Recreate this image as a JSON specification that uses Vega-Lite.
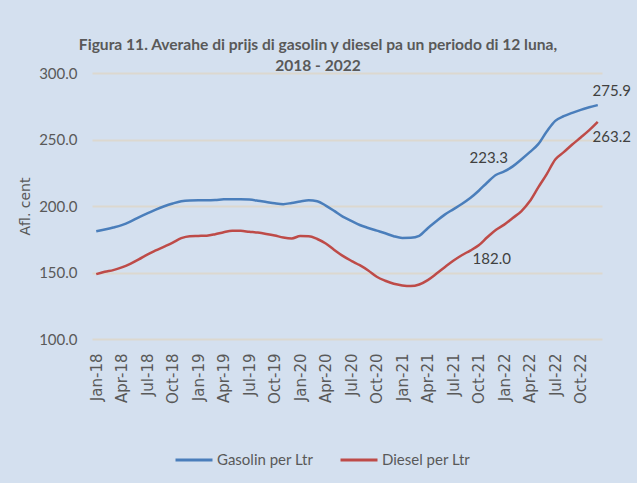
{
  "$schema": "https://vega.github.io/schema/vega-lite/v6.json",
  "width": 510,
  "height": 266,
  "autosize": {"type": "none"},
  "padding": {"left": 92, "top": 73, "right": 35, "bottom": 144},
  "background": "#d4e0ef",
  "config": {"view": {"stroke": null}},
  "title": {
    "text": ["Figura 11. Averahe di prijs di gasolin y diesel pa un periodo di 12 luna,", "2018 - 2022"],
    "font": "Lato",
    "fontSize": 15.6,
    "fontWeight": "bold",
    "color": "#595959",
    "anchor": "middle",
    "dx": -29,
    "offset": -9,
    "lineHeight": 21
  },
  "data": {
    "values": [
      {"m": "Jan-18", "s": "Gasolin per Ltr", "v": 181.0},
      {"m": "Feb-18", "s": "Gasolin per Ltr", "v": 182.3},
      {"m": "Mar-18", "s": "Gasolin per Ltr", "v": 183.8},
      {"m": "Apr-18", "s": "Gasolin per Ltr", "v": 185.6},
      {"m": "May-18", "s": "Gasolin per Ltr", "v": 188.2},
      {"m": "Jun-18", "s": "Gasolin per Ltr", "v": 191.5},
      {"m": "Jul-18", "s": "Gasolin per Ltr", "v": 194.5},
      {"m": "Aug-18", "s": "Gasolin per Ltr", "v": 197.3},
      {"m": "Sep-18", "s": "Gasolin per Ltr", "v": 199.8},
      {"m": "Oct-18", "s": "Gasolin per Ltr", "v": 201.9},
      {"m": "Nov-18", "s": "Gasolin per Ltr", "v": 203.6},
      {"m": "Dec-18", "s": "Gasolin per Ltr", "v": 204.2},
      {"m": "Jan-19", "s": "Gasolin per Ltr", "v": 204.3},
      {"m": "Feb-19", "s": "Gasolin per Ltr", "v": 204.3},
      {"m": "Mar-19", "s": "Gasolin per Ltr", "v": 204.5},
      {"m": "Apr-19", "s": "Gasolin per Ltr", "v": 205.0},
      {"m": "May-19", "s": "Gasolin per Ltr", "v": 205.1},
      {"m": "Jun-19", "s": "Gasolin per Ltr", "v": 205.1},
      {"m": "Jul-19", "s": "Gasolin per Ltr", "v": 204.8},
      {"m": "Aug-19", "s": "Gasolin per Ltr", "v": 204.0},
      {"m": "Sep-19", "s": "Gasolin per Ltr", "v": 203.0},
      {"m": "Oct-19", "s": "Gasolin per Ltr", "v": 202.0},
      {"m": "Nov-19", "s": "Gasolin per Ltr", "v": 201.4},
      {"m": "Dec-19", "s": "Gasolin per Ltr", "v": 202.3},
      {"m": "Jan-20", "s": "Gasolin per Ltr", "v": 203.4},
      {"m": "Feb-20", "s": "Gasolin per Ltr", "v": 204.3},
      {"m": "Mar-20", "s": "Gasolin per Ltr", "v": 203.6},
      {"m": "Apr-20", "s": "Gasolin per Ltr", "v": 200.3},
      {"m": "May-20", "s": "Gasolin per Ltr", "v": 196.3},
      {"m": "Jun-20", "s": "Gasolin per Ltr", "v": 192.0},
      {"m": "Jul-20", "s": "Gasolin per Ltr", "v": 188.8},
      {"m": "Aug-20", "s": "Gasolin per Ltr", "v": 185.7},
      {"m": "Sep-20", "s": "Gasolin per Ltr", "v": 183.5},
      {"m": "Oct-20", "s": "Gasolin per Ltr", "v": 181.5},
      {"m": "Nov-20", "s": "Gasolin per Ltr", "v": 179.5},
      {"m": "Dec-20", "s": "Gasolin per Ltr", "v": 177.3},
      {"m": "Jan-21", "s": "Gasolin per Ltr", "v": 176.0},
      {"m": "Feb-21", "s": "Gasolin per Ltr", "v": 176.1},
      {"m": "Mar-21", "s": "Gasolin per Ltr", "v": 177.6},
      {"m": "Apr-21", "s": "Gasolin per Ltr", "v": 183.3},
      {"m": "May-21", "s": "Gasolin per Ltr", "v": 188.5},
      {"m": "Jun-21", "s": "Gasolin per Ltr", "v": 193.5},
      {"m": "Jul-21", "s": "Gasolin per Ltr", "v": 197.5},
      {"m": "Aug-21", "s": "Gasolin per Ltr", "v": 201.5},
      {"m": "Sep-21", "s": "Gasolin per Ltr", "v": 206.0},
      {"m": "Oct-21", "s": "Gasolin per Ltr", "v": 211.5},
      {"m": "Nov-21", "s": "Gasolin per Ltr", "v": 217.7},
      {"m": "Dec-21", "s": "Gasolin per Ltr", "v": 223.3},
      {"m": "Jan-22", "s": "Gasolin per Ltr", "v": 226.0},
      {"m": "Feb-22", "s": "Gasolin per Ltr", "v": 229.8},
      {"m": "Mar-22", "s": "Gasolin per Ltr", "v": 235.0},
      {"m": "Apr-22", "s": "Gasolin per Ltr", "v": 240.5},
      {"m": "May-22", "s": "Gasolin per Ltr", "v": 246.5},
      {"m": "Jun-22", "s": "Gasolin per Ltr", "v": 256.0},
      {"m": "Jul-22", "s": "Gasolin per Ltr", "v": 264.0},
      {"m": "Aug-22", "s": "Gasolin per Ltr", "v": 267.5},
      {"m": "Sep-22", "s": "Gasolin per Ltr", "v": 270.0},
      {"m": "Oct-22", "s": "Gasolin per Ltr", "v": 272.3},
      {"m": "Nov-22", "s": "Gasolin per Ltr", "v": 274.2},
      {"m": "Dec-22", "s": "Gasolin per Ltr", "v": 275.9},
      {"m": "Jan-18", "s": "Diesel per Ltr", "v": 148.8},
      {"m": "Feb-18", "s": "Diesel per Ltr", "v": 150.6},
      {"m": "Mar-18", "s": "Diesel per Ltr", "v": 151.8},
      {"m": "Apr-18", "s": "Diesel per Ltr", "v": 153.8},
      {"m": "May-18", "s": "Diesel per Ltr", "v": 156.5},
      {"m": "Jun-18", "s": "Diesel per Ltr", "v": 159.8},
      {"m": "Jul-18", "s": "Diesel per Ltr", "v": 163.5},
      {"m": "Aug-18", "s": "Diesel per Ltr", "v": 166.6},
      {"m": "Sep-18", "s": "Diesel per Ltr", "v": 169.5},
      {"m": "Oct-18", "s": "Diesel per Ltr", "v": 172.5},
      {"m": "Nov-18", "s": "Diesel per Ltr", "v": 175.8},
      {"m": "Dec-18", "s": "Diesel per Ltr", "v": 177.3},
      {"m": "Jan-19", "s": "Diesel per Ltr", "v": 177.5},
      {"m": "Feb-19", "s": "Diesel per Ltr", "v": 177.7},
      {"m": "Mar-19", "s": "Diesel per Ltr", "v": 178.8},
      {"m": "Apr-19", "s": "Diesel per Ltr", "v": 180.3},
      {"m": "May-19", "s": "Diesel per Ltr", "v": 181.3},
      {"m": "Jun-19", "s": "Diesel per Ltr", "v": 181.3},
      {"m": "Jul-19", "s": "Diesel per Ltr", "v": 180.6},
      {"m": "Aug-19", "s": "Diesel per Ltr", "v": 180.0},
      {"m": "Sep-19", "s": "Diesel per Ltr", "v": 179.0},
      {"m": "Oct-19", "s": "Diesel per Ltr", "v": 177.8},
      {"m": "Nov-19", "s": "Diesel per Ltr", "v": 176.3},
      {"m": "Dec-19", "s": "Diesel per Ltr", "v": 175.6},
      {"m": "Jan-20", "s": "Diesel per Ltr", "v": 177.4},
      {"m": "Feb-20", "s": "Diesel per Ltr", "v": 177.3},
      {"m": "Mar-20", "s": "Diesel per Ltr", "v": 175.2},
      {"m": "Apr-20", "s": "Diesel per Ltr", "v": 171.8},
      {"m": "May-20", "s": "Diesel per Ltr", "v": 167.0},
      {"m": "Jun-20", "s": "Diesel per Ltr", "v": 162.5},
      {"m": "Jul-20", "s": "Diesel per Ltr", "v": 158.8},
      {"m": "Aug-20", "s": "Diesel per Ltr", "v": 155.5},
      {"m": "Sep-20", "s": "Diesel per Ltr", "v": 151.5},
      {"m": "Oct-20", "s": "Diesel per Ltr", "v": 146.8},
      {"m": "Nov-20", "s": "Diesel per Ltr", "v": 143.8},
      {"m": "Dec-20", "s": "Diesel per Ltr", "v": 141.5},
      {"m": "Jan-21", "s": "Diesel per Ltr", "v": 140.3},
      {"m": "Feb-21", "s": "Diesel per Ltr", "v": 139.8},
      {"m": "Mar-21", "s": "Diesel per Ltr", "v": 141.0},
      {"m": "Apr-21", "s": "Diesel per Ltr", "v": 144.3},
      {"m": "May-21", "s": "Diesel per Ltr", "v": 149.0},
      {"m": "Jun-21", "s": "Diesel per Ltr", "v": 154.0},
      {"m": "Jul-21", "s": "Diesel per Ltr", "v": 158.8},
      {"m": "Aug-21", "s": "Diesel per Ltr", "v": 163.0},
      {"m": "Sep-21", "s": "Diesel per Ltr", "v": 166.5},
      {"m": "Oct-21", "s": "Diesel per Ltr", "v": 170.5},
      {"m": "Nov-21", "s": "Diesel per Ltr", "v": 176.5},
      {"m": "Dec-21", "s": "Diesel per Ltr", "v": 182.0},
      {"m": "Jan-22", "s": "Diesel per Ltr", "v": 186.0},
      {"m": "Feb-22", "s": "Diesel per Ltr", "v": 191.0},
      {"m": "Mar-22", "s": "Diesel per Ltr", "v": 196.0},
      {"m": "Apr-22", "s": "Diesel per Ltr", "v": 203.5},
      {"m": "May-22", "s": "Diesel per Ltr", "v": 214.0},
      {"m": "Jun-22", "s": "Diesel per Ltr", "v": 224.0},
      {"m": "Jul-22", "s": "Diesel per Ltr", "v": 235.0},
      {"m": "Aug-22", "s": "Diesel per Ltr", "v": 240.5},
      {"m": "Sep-22", "s": "Diesel per Ltr", "v": 246.2},
      {"m": "Oct-22", "s": "Diesel per Ltr", "v": 251.5},
      {"m": "Nov-22", "s": "Diesel per Ltr", "v": 257.0},
      {"m": "Dec-22", "s": "Diesel per Ltr", "v": 263.2}
    ]
  },
  "encoding": {
    "x": {
      "field": "m",
      "type": "ordinal",
      "sort": null,
      "scale": {"type": "point", "padding": 0.5},
      "axis": {
        "title": null,
        "values": ["Jan-18", "Apr-18", "Jul-18", "Oct-18", "Jan-19", "Apr-19", "Jul-19", "Oct-19", "Jan-20", "Apr-20", "Jul-20", "Oct-20", "Jan-21", "Apr-21", "Jul-21", "Oct-21", "Jan-22", "Apr-22", "Jul-22", "Oct-22"],
        "labelAngle": -90,
        "labelFont": "DejaVu Sans",
        "labelFontSize": 15,
        "labelColor": "#595959",
        "labelPadding": 14,
        "ticks": false,
        "domain": false,
        "grid": false
      }
    },
    "y": {
      "field": "v",
      "type": "quantitative",
      "scale": {"domain": [100, 300], "nice": false, "zero": false},
      "axis": {
        "title": "Afl. cent",
        "titleFont": "DejaVu Sans",
        "titleFontSize": 14,
        "titleFontWeight": "normal",
        "titleColor": "#595959",
        "titleX": -67,
        "titleY": 133,
        "titleAngle": -90,
        "titleAlign": "center",
        "titleBaseline": "middle",
        "values": [100, 150, 200, 250, 300],
        "format": ".1f",
        "labelFont": "Lato",
        "labelFontSize": 15,
        "labelColor": "#595959",
        "labelPadding": 15,
        "ticks": false,
        "domain": false,
        "grid": true,
        "gridColor": "#dcd8cf",
        "gridWidth": 2
      }
    }
  },
  "layer": [
    {
      "mark": {"type": "line", "interpolate": "monotone", "strokeWidth": 2.5},
      "encoding": {
        "color": {
          "field": "s",
          "type": "nominal",
          "sort": null,
          "scale": {"domain": ["Gasolin per Ltr", "Diesel per Ltr"], "range": ["#4a7ebb", "#be4b48"]},
          "legend": {
            "title": null,
            "orient": "none",
            "direction": "horizontal",
            "legendX": 82,
            "legendY": 367,
            "symbolType": "stroke",
            "symbolSize": 1369,
            "symbolStrokeWidth": 3,
            "labelFont": "Lato",
            "labelFontSize": 15,
            "labelColor": "#595959",
            "labelOffset": 3,
            "columnPadding": 20
          }
        }
      }
    },
    {
      "transform": [{"filter": "datum.m === 'Dec-22' && datum.s === 'Gasolin per Ltr'"}],
      "mark": {"type": "text", "dx": 14, "dy": -14, "font": "Lato", "fontSize": 15, "color": "#404040"},
      "encoding": {"text": {"field": "v", "type": "quantitative", "format": ".1f"}}
    },
    {
      "transform": [{"filter": "datum.m === 'Dec-22' && datum.s === 'Diesel per Ltr'"}],
      "mark": {"type": "text", "dx": 14, "dy": 15, "font": "Lato", "fontSize": 15, "color": "#404040"},
      "encoding": {"text": {"field": "v", "type": "quantitative", "format": ".1f"}}
    },
    {
      "transform": [{"filter": "datum.m === 'Dec-21' && datum.s === 'Gasolin per Ltr'"}],
      "mark": {"type": "text", "dx": -7, "dy": -17, "font": "Lato", "fontSize": 15, "color": "#404040"},
      "encoding": {"text": {"field": "v", "type": "quantitative", "format": ".1f"}}
    },
    {
      "transform": [{"filter": "datum.m === 'Dec-21' && datum.s === 'Diesel per Ltr'"}],
      "mark": {"type": "text", "dx": -4, "dy": 29, "font": "Lato", "fontSize": 15, "color": "#404040"},
      "encoding": {"text": {"field": "v", "type": "quantitative", "format": ".1f"}}
    }
  ]
}
